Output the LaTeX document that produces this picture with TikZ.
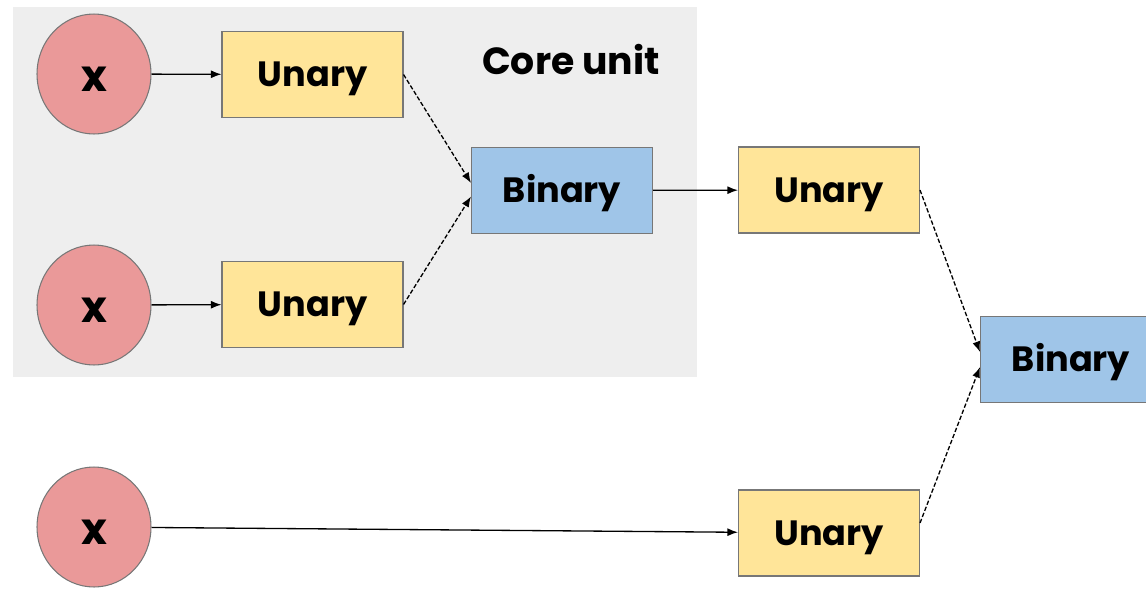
\documentclass[tikz,border=0pt]{standalone}
\usepackage{fontspec}
\setmainfont{Poppins}
\usetikzlibrary{arrows.meta,shapes.geometric}
\definecolor{bggray}{HTML}{EEEEEE}
\definecolor{xfill}{HTML}{EA9999}
\definecolor{ufill}{HTML}{FFE599}
\definecolor{bfill}{HTML}{9FC5E8}
\definecolor{edge}{HTML}{777777}
\begin{document}
\begin{tikzpicture}[x=0.02cm,y=-0.02cm,
  lbl/.style={font=\bfseries\fontsize{20}{24}\selectfont},
  xnode/.style={ellipse, draw=edge, line width=0.6pt, fill=xfill, minimum width=2.28cm, minimum height=2.4cm, inner sep=0pt,
    font=\bfseries\fontsize{25}{30}\selectfont, text height=21pt, text depth=1pt},
  opbox/.style={draw=edge, line width=0.6pt, minimum width=3.62cm, minimum height=1.72cm, inner sep=0pt, lbl, text height=17pt, text depth=3pt},
  unarybox/.style={opbox, fill=ufill},
  binarybox/.style={opbox, fill=bfill},
  solidarrow/.style={-{Latex[length=6pt,width=4.5pt]}, line width=0.75pt, black},
  dasharrow/.style={solidarrow, dash pattern=on 2.5pt off 1.2pt}
]
\useasboundingbox (0,0) rectangle (1146,589);
\clip (0,0) rectangle (1146,589);
\fill[bggray] (13,7) rectangle (697,377);
\node[font=\bfseries\fontsize{21.5}{26}\selectfont] (core) at (571,60) {Core unit};
\node[xnode] (x1) at (94,74) {x};
\node[xnode] (x2) at (94,305) {x};
\node[xnode] (x3) at (94,527) {x};
\node[unarybox] (u1) at (312.5,74.5) {Unary};
\node[unarybox] (u2) at (312.5,304.5) {Unary};
\node[binarybox] (b1) at (562,190.5) {Binary};
\node[unarybox] (u3) at (829,190) {Unary};
\node[unarybox] (u4) at (829,533) {Unary};
\node[binarybox] (b2) at (1071,359.5) {Binary};
\draw[solidarrow] (x1) -- (u1);
\draw[solidarrow] (x2) -- (u2);
\draw[solidarrow] (x3) -- (u4);
\draw[dasharrow] (u1.east) -- ([yshift=0.15cm]b1.west);
\draw[dasharrow] (u2.east) -- ([yshift=-0.12cm]b1.west);
\draw[solidarrow] (b1) -- (u3);
\draw[dasharrow] (u3.east) -- ([yshift=0.15cm]b2.west);
\draw[dasharrow] ([yshift=0.2cm]u4.east) -- ([yshift=-0.15cm]b2.west);
\end{tikzpicture}
\end{document}
